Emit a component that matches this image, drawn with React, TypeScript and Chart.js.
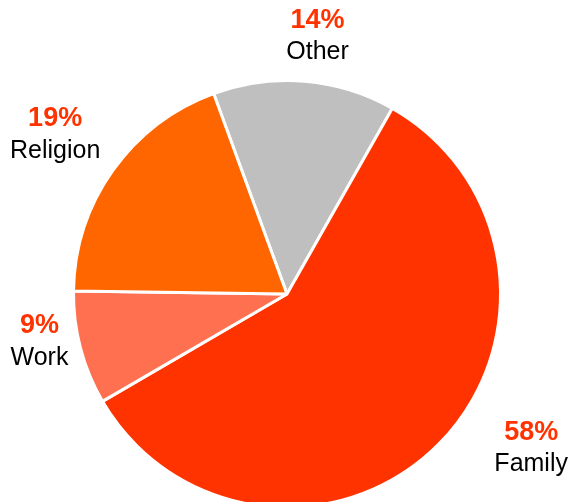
import React, { useEffect, useRef } from "react";
import { Chart, registerables } from "chart.js";

Chart.register(...registerables);

const categories = ["Other", "Family", "Work", "Religion"];
const shares = [13.8, 58.4, 8.6, 19.2];
const sliceColors = ["#BFBFBF", "#FF3300", "#FF7050", "#FF6600"];

// label placement tweaks: angle offset (deg) and distance as factor of radius
const labelAngleOffset = [2, -12.6, 4, -0.7];
const labelDistance = [1.22, 1.35, 1.18, 1.32];

const labelPlugin = {
  id: "outerLabels",
  afterDraw(chart: any) {
    const ctx = chart.ctx;
    const meta = chart.getDatasetMeta(0);
    const data = chart.data.datasets[0].data as number[];
    const total = data.reduce((a: number, b: number) => a + b, 0);
    meta.data.forEach((arc: any, i: number) => {
      const { x, y, startAngle, endAngle, outerRadius } = arc.getProps(
        ["x", "y", "startAngle", "endAngle", "outerRadius"],
        true
      );
      const mid = (startAngle + endAngle) / 2 + (labelAngleOffset[i] * Math.PI) / 180;
      const r = outerRadius * labelDistance[i];
      const lx = x + Math.cos(mid) * r;
      const ly = y + Math.sin(mid) * r;
      const pct = Math.round((data[i] / total) * 100) + "%";
      ctx.save();
      ctx.textAlign = "center";
      ctx.textBaseline = "middle";
      ctx.fillStyle = "#FF3300";
      ctx.font = "bold 27px 'Liberation Sans', Arial, sans-serif";
      ctx.fillText(pct, lx, ly - 15);
      ctx.fillStyle = "#000000";
      ctx.font = "25px 'Liberation Sans', Arial, sans-serif";
      ctx.fillText(chart.data.labels[i], lx, ly + 17);
      ctx.restore();
    });
  },
};

export default function App() {
  const canvasRef = useRef<HTMLCanvasElement | null>(null);

  useEffect(() => {
    document.body.style.overflow = "hidden";
    const chart = new Chart(canvasRef.current!, {
      type: "pie",
      data: {
        labels: categories,
        datasets: [
          {
            data: shares,
            backgroundColor: sliceColors,
            borderColor: "#FFFFFF",
            borderWidth: 3,
          },
        ],
      },
      options: {
        animation: false,
        responsive: true,
        maintainAspectRatio: false,
        rotation: -20.1,
        layout: { padding: { top: 79, bottom: 91, left: 72, right: 72 } },
        plugins: {
          legend: { display: false },
          tooltip: { enabled: false },
        },
      },
      plugins: [labelPlugin],
    });
    return () => chart.destroy();
  }, []);

  return (
    <div style={{ position: "fixed", left: 0, top: 0, width: 574, height: 600 }}>
      <canvas ref={canvasRef} />
    </div>
  );
}
